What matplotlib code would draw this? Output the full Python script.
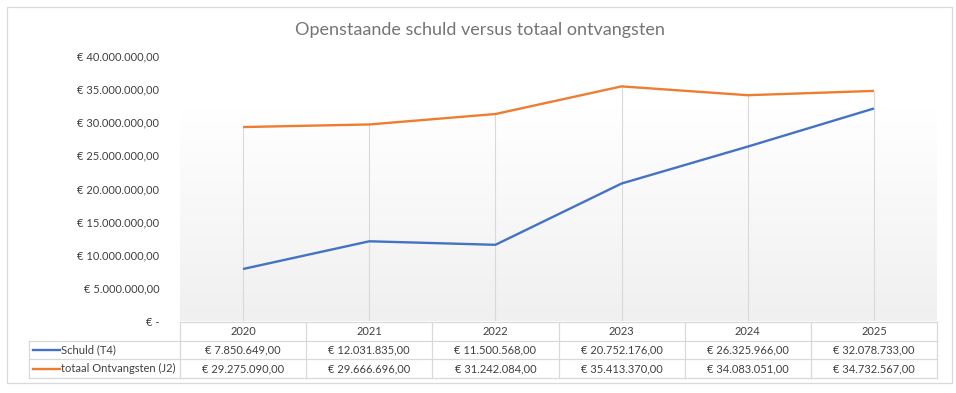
import numpy as np
import matplotlib
matplotlib.use("Agg")
import matplotlib.pyplot as plt
from matplotlib.patches import Rectangle

years = ["2020", "2021", "2022", "2023", "2024", "2025"]
schuld = [7850649.00, 12031835.00, 11500568.00, 20752176.00, 26325966.00, 32078733.00]
ontvangsten = [29275090.00, 29666696.00, 31242084.00, 35413370.00, 34083051.00, 34732567.00]
series_names = ["Schuld (T4)", "totaal Ontvangsten (J2)"]
y_ticks = [0, 5e6, 10e6, 15e6, 20e6, 25e6, 30e6, 35e6, 40e6]

BLUE = "#4472C4"
ORANGE = "#ED7D31"
GRID = "#d9d9d9"
TXT = "#404040"
FONT = ["Lato", "DejaVu Sans"]
FS = 8.0

plt.rcParams["font.family"] = FONT


def euro(v):
    """Dutch currency format: € 7.850.649,00"""
    if v == 0:
        return "€ -"
    s = f"{v:,.2f}"
    s = s.replace(",", "#").replace(".", ",").replace("#", ".")
    return "€ " + s


W, H = 956, 393
fig = plt.figure(figsize=(W / 100, H / 100), dpi=100)


def fx(px):
    return px / W


def fy(py):
    return 1 - py / H


# outer chart border
fig.patches.append(Rectangle((fx(7), fy(383)), fx(952) - fx(7), fy(7) - fy(383),
                             transform=fig.transFigure, fill=False,
                             edgecolor=GRID, linewidth=0.9))

# plot area
x0, x1 = 180, 937
y_top, y_bot = 56, 321
ax = fig.add_axes([fx(x0), fy(y_bot), fx(x1) - fx(x0), fy(y_top) - fy(y_bot)])
n = len(years)
x = np.arange(n)
ax.set_xlim(-0.5, n - 0.5)
ax.set_ylim(0, 40e6)

# soft vertical gradient in the plot area (white at top, light gray at bottom)
grad = np.linspace(0, 1, 256).reshape(-1, 1)
grad = np.clip((grad - 0.2) / 0.8, 0, 1)
cols = np.ones((256, 1, 3))
cols[:, 0, :] = (1 - grad) * 1.0 + grad * (240 / 255)
ax.imshow(cols[::-1], extent=(-0.5, n - 0.5, 0, 40e6), aspect="auto", zorder=0,
          origin="lower")

# drop lines from the highest point down to the axis
tops = np.maximum(schuld, ontvangsten)
ax.vlines(x, 0, tops, color=GRID, linewidth=0.8, zorder=1)

ax.plot(x, schuld, color=BLUE, linewidth=1.7, zorder=3, solid_capstyle="butt")
ax.plot(x, ontvangsten, color=ORANGE, linewidth=1.7, zorder=3, solid_capstyle="butt")

ax.set_xticks([])
ax.set_yticks(y_ticks)
ax.set_yticklabels([euro(v) for v in y_ticks], fontsize=FS, color=TXT)
ax.tick_params(axis="y", length=0, pad=15)
for sp in ax.spines.values():
    sp.set_visible(False)

# title
fig.text(fx(480), fy(30), "Openstaande schuld versus totaal ontvangsten",
         ha="center", va="center", fontsize=13, color="#757575")

# data table under the plot
row_y = [322, 341, 359, 378]
col_x = [x0 + (x1 - x0) * i / n for i in range(n + 1)]
lw = 0.9

def hline(xa, xb, yy):
    fig.add_artist(plt.Line2D([fx(xa), fx(xb)], [fy(yy), fy(yy)],
                              transform=fig.transFigure, color=GRID, linewidth=lw))

def vline(xx, ya, yb):
    fig.add_artist(plt.Line2D([fx(xx), fx(xx)], [fy(ya), fy(yb)],
                              transform=fig.transFigure, color=GRID, linewidth=lw))

hline(x0, x1, row_y[0])
for yy in row_y[1:]:
    hline(29, x1, yy)
for xx in col_x:
    vline(xx, row_y[0], row_y[3])
vline(29, row_y[1], row_y[3])

for i, yr in enumerate(years):
    cx = (col_x[i] + col_x[i + 1]) / 2
    fig.text(fx(cx), fy((row_y[0] + row_y[1]) / 2), yr, ha="center", va="center",
             fontsize=FS, color=TXT)
    fig.text(fx(cx), fy((row_y[1] + row_y[2]) / 2), euro(schuld[i]), ha="center",
             va="center", fontsize=FS, color=TXT)
    fig.text(fx(cx), fy((row_y[2] + row_y[3]) / 2), euro(ontvangsten[i]), ha="center",
             va="center", fontsize=FS, color=TXT)

for k, (name, c) in enumerate(zip(series_names, [BLUE, ORANGE])):
    yy = (row_y[k + 1] + row_y[k + 2]) / 2
    fig.add_artist(plt.Line2D([fx(33), fx(60)], [fy(yy), fy(yy)],
                              transform=fig.transFigure, color=c, linewidth=1.7))
    fig.text(fx(61), fy(yy), name, ha="left", va="center", fontsize=FS, color=TXT)

fig.savefig("out.png", dpi=100)
